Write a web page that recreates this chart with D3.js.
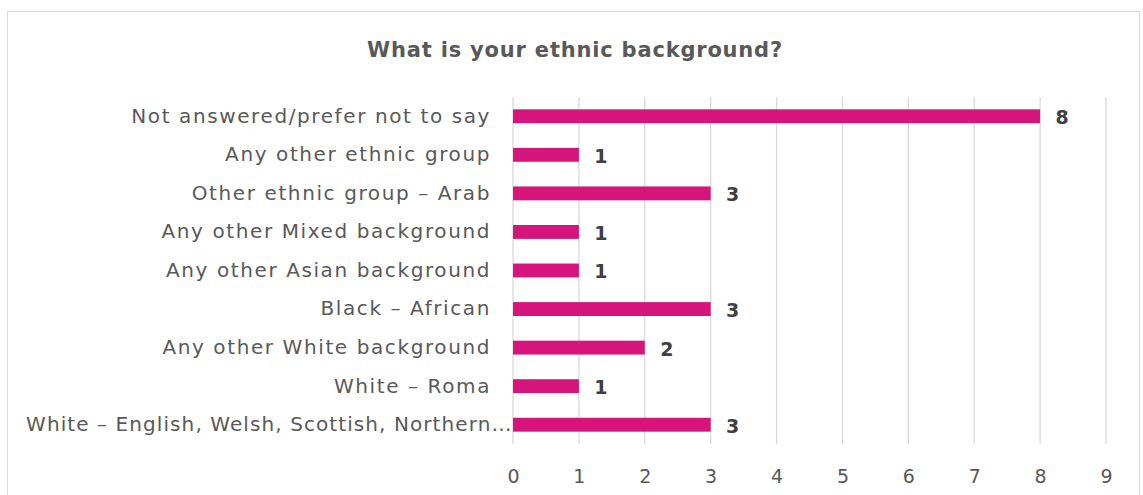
<!DOCTYPE html>
<html>
<head>
<meta charset="utf-8">
<script src="https://cdn.jsdelivr.net/npm/d3@7"></script>
<style>
	body { margin: 0; background: #fff; }
	svg { display: block; font-family: "DejaVu Sans", sans-serif; }
</style>
</head>
<body>
<svg id="viz" width="1143" height="495"></svg>
<script>
var categories = [
	"Not answered/prefer not to say",
	"Any other ethnic group",
	"Other ethnic group – Arab",
	"Any other Mixed background",
	"Any other Asian background",
	"Black – African",
	"Any other White background",
	"White – Roma",
	"White – English, Welsh, Scottish, Northern…"
];
var counts = [8, 1, 3, 1, 1, 3, 2, 1, 3];
var xTicks = [0, 1, 2, 3, 4, 5, 6, 7, 8, 9];

var svg = d3.select("#viz");
var margin = {left: 513, right: 37, top: 97, bottom: 51};
var width = 1143, height = 495;

// chart frame
svg.append("rect")
	.attr("x", 7.5).attr("y", 11.5)
	.attr("width", 1132).attr("height", 520)
	.attr("fill", "none")
	.attr("stroke", "#d9d9d9");

svg.append("text")
	.attr("x", 575).attr("y", 57)
	.attr("text-anchor", "middle")
	.attr("font-size", 21)
	.attr("letter-spacing", 0.8)
	.attr("font-weight", "bold")
	.attr("fill", "#595959")
	.text("What is your ethnic background?");

var x = d3.scaleLinear()
	.domain([0, 9])
	.range([margin.left, width - margin.right]);
var y = d3.scaleBand()
	.domain(categories)
	.range([margin.top, height - margin.bottom])
	.paddingInner(0.64)
	.paddingOuter(0.32);

// gridlines
svg.append("g")
	.selectAll("line")
	.data(xTicks)
	.enter().append("line")
	.attr("x1", function (d) { return x(d); })
	.attr("x2", function (d) { return x(d); })
	.attr("y1", margin.top)
	.attr("y2", height - margin.bottom)
	.attr("stroke", "#d9d9d9")
	.attr("stroke-width", 1.3);

var xAxis = svg.append("g")
	.attr("transform", "translate(0," + (height - margin.bottom) + ")")
	.call(d3.axisBottom(x).tickValues(xTicks).tickSize(0).tickPadding(26).tickFormat(d3.format("d")));
xAxis.select(".domain").remove();
xAxis.selectAll("text")
	.attr("font-size", 19)
	.attr("font-family", "DejaVu Sans, sans-serif")
	.attr("fill", "#595959");

var yAxis = svg.append("g")
	.attr("transform", "translate(" + margin.left + ",0)")
	.call(d3.axisLeft(y).tickSize(0).tickPadding(22));
yAxis.select(".domain").remove();
yAxis.selectAll("text")
	.attr("font-size", 20)
	.attr("letter-spacing", 1.6)
	.attr("font-family", "DejaVu Sans, sans-serif")
	.attr("fill", "#595959");
// the truncated last label runs up to the axis
yAxis.selectAll("text")
	.filter(function (d) { return d === categories[categories.length - 1]; })
	.attr("x", 0)
	.attr("textLength", 487)
	.attr("lengthAdjust", "spacing");

svg.append("g")
	.selectAll("rect")
	.data(categories)
	.enter().append("rect")
	.attr("x", x(0))
	.attr("y", function (d) { return y(d); })
	.attr("width", function (d, i) { return x(counts[i]) - x(0); })
	.attr("height", y.bandwidth())
	.attr("fill", "#d6157c");

svg.append("g")
	.selectAll("text")
	.data(categories)
	.enter().append("text")
	.attr("x", function (d, i) { return x(counts[i]) + 22; })
	.attr("y", function (d) { return y(d) + y.bandwidth() / 2; })
	.attr("dy", "0.42em")
	.attr("text-anchor", "middle")
	.attr("font-size", 19)
	.attr("font-weight", "bold")
	.attr("fill", "#404040")
	.text(function (d, i) { return counts[i]; });
</script>
</body>
</html>
